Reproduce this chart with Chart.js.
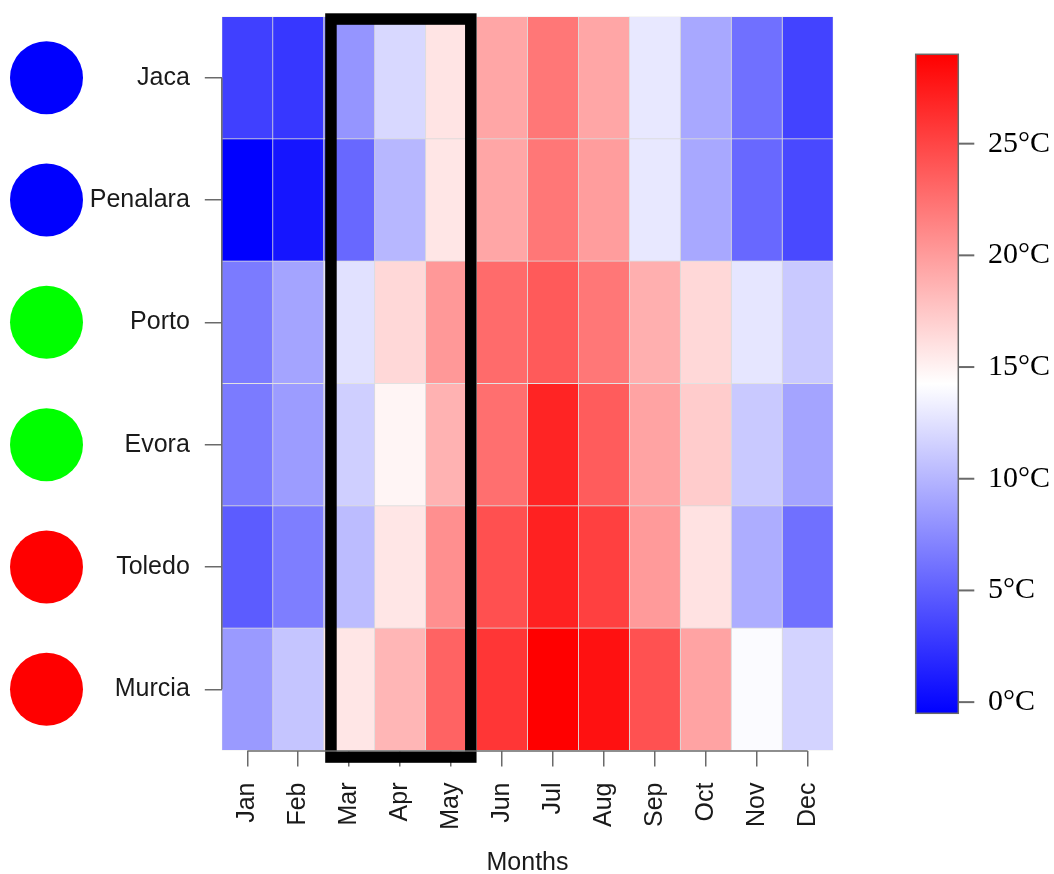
<!DOCTYPE html>
<html>
<head>
<meta charset="utf-8">
<script src="https://cdn.jsdelivr.net/npm/chart.js@4.4.1/dist/chart.umd.min.js"></script>
<style>
  html, body { margin: 0; padding: 0; background: #ffffff; }
  #wrap { width: 1054px; height: 874px; }
</style>
</head>
<body>
<div id="wrap"><canvas id="heat" width="1054" height="874"></canvas></div>
<script>
// Monthly mean temperatures (°C) per station
const months = ['Jan', 'Feb', 'Mar', 'Apr', 'May', 'Jun', 'Jul', 'Aug', 'Sep', 'Oct', 'Nov', 'Dec'];
const cities = ['Jaca', 'Penalara', 'Porto', 'Evora', 'Toledo', 'Murcia'];
const cityGroup = ['mountain', 'mountain', 'west', 'west', 'south', 'south'];

const jaca     = [3.2, 2.7, 8.1, 12.0, 15.8, 19.4, 22.1, 19.4, 12.9, 9.2, 6.0, 3.4];
const penalara = [-0.5, 0.7, 5.5, 10.1, 15.7, 19.4, 22.1, 19.9, 12.9, 9.2, 5.5, 3.7];
const porto    = [6.6, 9.0, 12.5, 16.5, 20.2, 22.8, 23.8, 22.1, 18.9, 16.5, 12.8, 11.1];
const evora    = [6.6, 8.5, 11.5, 14.8, 18.7, 22.6, 26.9, 23.7, 19.6, 17.2, 11.1, 9.0];
const toledo   = [4.8, 6.8, 10.4, 15.7, 20.7, 24.4, 27.1, 25.3, 20.1, 15.9, 9.5, 6.0];
const murcia   = [8.4, 10.9, 15.7, 18.5, 23.3, 25.9, 29.0, 28.0, 24.3, 19.6, 14.0, 11.7];

const colorbarTicks = [0, 5, 10, 15, 20, 25];
const highlightMonths = ['Mar', 'May'];

// ---- styling ----
const groupColors = { mountain: '#0000ff', west: '#00ff00', south: '#ff0000' };
const SANS = '"Liberation Sans", Arial, sans-serif';
const SERIF = '"Liberation Serif", "Times New Roman", serif';
const AXIS_GRAY = '#6a6a6a';

const temperatures = [jaca, penalara, porto, evora, toledo, murcia];
const allValues = temperatures.flat();
const tMin = Math.min(...allValues);
const tMax = Math.max(...allValues);
const tMid = (tMin + tMax) / 2;

// blue -> white -> red ramp across the data range
function tempColor(v) {
  if (v <= tMid) {
    const c = Math.round(255 * (v - tMin) / (tMid - tMin));
    return `rgb(${c},${c},255)`;
  }
  const c = Math.round(255 * (1 - (v - tMid) / (tMax - tMid)));
  return `rgb(255,${c},${c})`;
}

// One stacked dataset per month: each city row gets one unit-wide cell
const datasets = months.map((m, j) => ({
  label: m,
  data: cities.map(() => 1),
  backgroundColor: cities.map((c, i) => tempColor(temperatures[i][j])),
  borderColor: 'rgba(215,215,215,0.85)',
  borderWidth: 0.75,
  borderSkipped: false,
  barPercentage: 1,
  categoryPercentage: 1,
  stack: 'cells'
}));

const decorations = {
  id: 'decorations',
  afterDatasetsDraw(chart) {
    const { ctx, chartArea, scales: { x } } = chart;
    // box around the highlighted months
    const first = months.indexOf(highlightMonths[0]);
    const last = months.indexOf(highlightMonths[1]);
    const lw = 11.5;
    const left = x.getPixelForValue(first) + 1.5;
    const right = x.getPixelForValue(last + 1);
    const top = chartArea.top - 3.2;
    const bottom = chartArea.bottom + 12.3;
    ctx.save();
    ctx.strokeStyle = '#000000';
    ctx.lineWidth = lw;
    ctx.lineJoin = 'miter';
    ctx.strokeRect(left + lw / 2, top + lw / 2, right - left - lw, bottom - top - lw);
    ctx.restore();
  },
  afterDraw(chart) {
    const { ctx, chartArea, scales: { x, y } } = chart;
    ctx.save();
    // axis lines spanning first to last tick
    ctx.strokeStyle = AXIS_GRAY;
    ctx.lineWidth = 1.5;
    ctx.beginPath();
    ctx.moveTo(chartArea.left, y.getPixelForValue(0));
    ctx.lineTo(chartArea.left, y.getPixelForValue(cities.length - 1));
    ctx.stroke();
    ctx.beginPath();
    ctx.moveTo(x.getPixelForValue(0.5), chartArea.bottom + 0.5);
    ctx.lineTo(x.getPixelForValue(months.length - 0.5), chartArea.bottom + 0.5);
    ctx.stroke();

    // group markers beside the station names
    cities.forEach((c, i) => {
      ctx.fillStyle = groupColors[cityGroup[i]];
      ctx.beginPath();
      ctx.arc(46.5, y.getPixelForValue(i), 36.5, 0, Math.PI * 2);
      ctx.fill();
    });

    // colour bar
    const cbL = 915.7, cbR = 958.3, cbT = 54.3, cbB = 713.3;
    const grad = ctx.createLinearGradient(0, cbB, 0, cbT);
    grad.addColorStop(0, tempColor(tMin));
    grad.addColorStop(0.5, tempColor(tMid));
    grad.addColorStop(1, tempColor(tMax));
    ctx.fillStyle = grad;
    ctx.fillRect(cbL, cbT, cbR - cbL, cbB - cbT);
    ctx.strokeStyle = AXIS_GRAY;
    ctx.lineWidth = 1.5;
    ctx.strokeRect(cbL, cbT, cbR - cbL, cbB - cbT);
    const vy = v => cbB - (v - tMin) / (tMax - tMin) * (cbB - cbT);
    ctx.font = '30px ' + SERIF;
    ctx.fillStyle = '#000000';
    ctx.textAlign = 'left';
    ctx.textBaseline = 'middle';
    colorbarTicks.forEach(t => {
      const py = vy(t);
      ctx.strokeStyle = AXIS_GRAY;
      ctx.lineWidth = 2;
      ctx.beginPath();
      ctx.moveTo(cbR, py);
      ctx.lineTo(cbR + 16, py);
      ctx.stroke();
      ctx.fillText(t + '°C', 988, py);
    });
    ctx.restore();
  }
};

new Chart(document.getElementById('heat'), {
  type: 'bar',
  data: { labels: cities, datasets },
  options: {
    indexAxis: 'y',
    responsive: false,
    animation: false,
    events: [],
    layout: { padding: { top: 16.5, right: 220.8, bottom: 0, left: 0 } },
    plugins: { legend: { display: false }, tooltip: { enabled: false } },
    scales: {
      x: {
        type: 'linear',
        stacked: true,
        min: 0,
        max: months.length,
        afterBuildTicks(scale) {
          scale.ticks = months.map((m, i) => ({ value: i + 0.5 }));
        },
        afterFit(scale) {
          scale.height = 874 - 750.5;
          scale.paddingLeft = 0;
          scale.paddingRight = 0;
        },
        border: { display: false },
        grid: {
          drawOnChartArea: false,
          drawTicks: true,
          tickLength: 16,
          color: AXIS_GRAY,
          lineWidth: 1.5
        },
        ticks: {
          autoSkip: false,
          minRotation: 90,
          maxRotation: 90,
          padding: 16,
          color: '#1a1a1a',
          font: { family: SANS, size: 25 },
          callback: (v, i) => months[i]
        },
        title: {
          display: true,
          text: 'Months',
          color: '#1a1a1a',
          font: { family: SANS, size: 25, lineHeight: 1 },
          padding: { top: 0, bottom: -1.8 }
        }
      },
      y: {
        type: 'category',
        stacked: true,
        offset: true,
        afterFit(scale) {
          scale.width = 221.8;
          scale.paddingTop = 0;
          scale.paddingBottom = 0;
        },
        border: { display: false },
        grid: {
          offset: false,
          drawOnChartArea: false,
          drawTicks: true,
          tickLength: 17,
          color: AXIS_GRAY,
          lineWidth: 1.5
        },
        ticks: {
          padding: 15,
          color: '#1a1a1a',
          font: { family: SANS, size: 25 }
        }
      }
    }
  },
  plugins: [decorations]
});
</script>
</body>
</html>
